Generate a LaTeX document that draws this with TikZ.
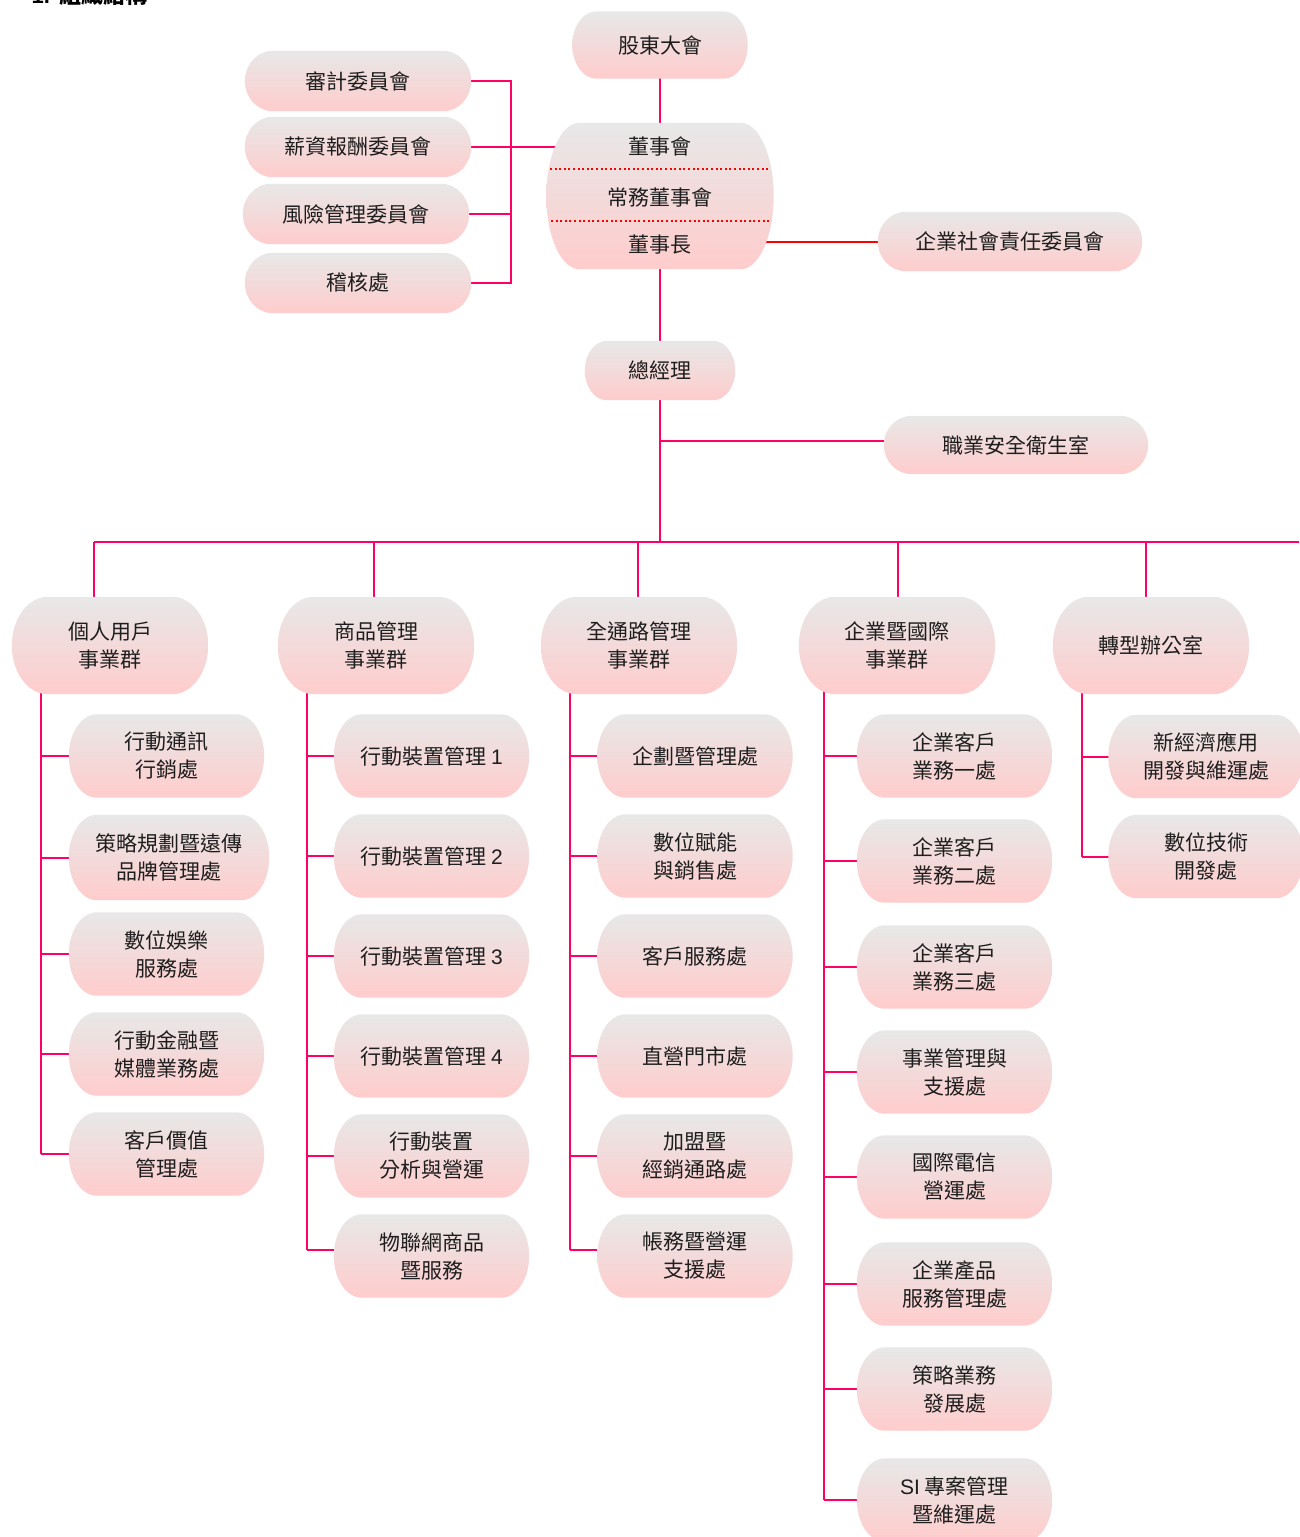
\documentclass[tikz,border=0pt]{standalone}
\usepackage{fontspec}
\setmainfont{Noto Sans CJK TC}
\newfontfamily\lat{Liberation Sans}
\usetikzlibrary{calc}
\definecolor{gtop}{RGB}{232,232,232}
\definecolor{gbot}{RGB}{255,204,204}
\definecolor{lnk}{RGB}{255,0,102}
\definecolor{txt}{RGB}{30,30,30}
\pgfdeclarelayer{bg}\pgfdeclarelayer{mid}\pgfsetlayers{bg,mid,main}
\newcommand\bgs[2]{%
\begin{pgfonlayer}{mid}
\shade[top color=gtop,bottom color=gbot] let \p1=(#1.south west), \p2=(#1.north east), \n1={(\y2-\y1)/2} in
 (\x1+#2pt,\y1) -- (\x2-#2pt,\y1) arc[start angle=-90,end angle=90,x radius=#2pt,y radius=\n1]
 -- (\x1+#2pt,\y2) arc[start angle=90,end angle=270,x radius=#2pt,y radius=\n1] -- cycle;
\end{pgfonlayer}}
\begin{document}
\begin{tikzpicture}[x=1pt,y=-1pt,
 box/.style={inner sep=0pt, align=center, text=txt, font=\fontsize{21}{28}\selectfont},
 topbox/.style={box, minimum width=226pt, minimum height=60pt},
 grp/.style={box, minimum width=196pt, minimum height=97pt},
 sub/.style={box, minimum width=195pt, minimum height=83pt},
 lnkline/.style={draw=lnk, line width=2pt},
 redline/.style={draw=red, line width=2pt}]
\useasboundingbox (0,0) rectangle (1299,1537);
\node[anchor=base west, font=\fontsize{22}{22}\selectfont\bfseries, text=black] (title) at (28,3) {{\lat 1.}\hspace{10pt}組織結構};
% top part
\node[box, minimum width=175pt, minimum height=67pt] (sh) at (660,45) {股東大會};
\node[topbox] (aud) at (358,81) {審計委員會};
\node[topbox] (sal) at (358,147) {薪資報酬委員會};
\node[topbox] (risk) at (356,214) {風險管理委員會};
\node[topbox] (insp) at (358,283) {稽核處};
\node[box, minimum width=227pt, minimum height=146pt] (board) at (660,196) {};
\node[box] (b1) at (660,147) {董事會};
\node[box] (b2) at (660,198) {常務董事會};
\node[box] (b3) at (660,245) {董事長};
\node[box, minimum width=264pt, minimum height=59pt] (csr) at (1010,241.5) {企業社會責任委員會};
\node[box, minimum width=150pt, minimum height=59pt] (gm) at (660,370.5) {總經理};
\node[box, minimum width=264pt, minimum height=58pt] (ohs) at (1016,445) {職業安全衛生室};
% groups
\node[grp] (g1) at (110,645.5) {個人用戶\\事業群};
\node[grp] (g2) at (376,645.5) {商品管理\\事業群};
\node[grp] (g3) at (639,645.5) {全通路管理\\事業群};
\node[grp] (g4) at (897,645.5) {企業暨國際\\事業群};
\node[grp] (g5) at (1151,645.5) {轉型辦公室};
% column 1
\node[sub] (c11) at (166.5,756) {行動通訊\\行銷處};
\node[sub, minimum width=200pt, minimum height=85pt] (c12) at (169,857.5) {策略規劃暨遠傳\\品牌管理處};
\node[sub] (c13) at (166.5,954) {數位娛樂\\服務處};
\node[sub] (c14) at (166.5,1054) {行動金融暨\\媒體業務處};
\node[sub] (c15) at (166.5,1154) {客戶價值\\管理處};
% column 2
\node[sub] (c21) at (431.5,756) {行動裝置管理 {\lat 1}};
\node[sub] (c22) at (431.5,856) {行動裝置管理 {\lat 2}};
\node[sub] (c23) at (431.5,956) {行動裝置管理 {\lat 3}};
\node[sub] (c24) at (431.5,1056) {行動裝置管理 {\lat 4}};
\node[sub] (c25) at (431.5,1156) {行動裝置\\分析與營運};
\node[sub] (c26) at (431.5,1256) {物聯網商品\\暨服務};
% column 3
\node[sub] (c31) at (695,756) {企劃暨管理處};
\node[sub] (c32) at (695,856) {數位賦能\\與銷售處};
\node[sub] (c33) at (695,956) {客戶服務處};
\node[sub] (c34) at (695,1056) {直營門市處};
\node[sub] (c35) at (695,1156) {加盟暨\\經銷通路處};
\node[sub] (c36) at (695,1256) {帳務暨營運\\支援處};
% column 4
\node[sub] (c41) at (954.5,756) {企業客戶\\業務一處};
\node[sub] (c42) at (954.5,861) {企業客戶\\業務二處};
\node[sub] (c43) at (954.5,967) {企業客戶\\業務三處};
\node[sub] (c44) at (954.5,1072) {事業管理與\\支援處};
\node[sub] (c45) at (954.5,1177) {國際電信\\營運處};
\node[sub] (c46) at (954.5,1284) {企業產品\\服務管理處};
\node[sub] (c47) at (954.5,1389) {策略業務\\發展處};
\node[sub] (c48) at (954.5,1500) {{\lat SI} 專案管理\\暨維運處};
% column 5
\node[sub] (c51) at (1206,756.5) {新經濟應用\\開發與維運處};
\node[sub] (c52) at (1206,856.5) {數位技術\\開發處};
% shapes
\foreach \nm/\rr in {sh/24, aud/28, sal/28, risk/28, insp/28, board/33, csr/28, gm/22, ohs/28,
  g1/36, g2/36, g3/36, g4/36, g5/36,
  c11/28, c12/28, c13/28, c14/28, c15/28,
  c21/28, c22/28, c23/28, c24/28, c25/28, c26/28,
  c31/28, c32/28, c33/28, c34/28, c35/28, c36/28,
  c41/28, c42/28, c43/28, c44/28, c45/28, c46/28, c47/28, c48/28,
  c51/28, c52/28} {\bgs{\nm}{\rr}}
% dotted separators in board
\coordinate (d1L) at (550,169); \coordinate (d1R) at (768,169);
\coordinate (d2L) at (551,221); \coordinate (d2R) at (770,221);
\draw[red, line width=2pt, dash pattern=on 2pt off 2.6pt] (d1L) -- (d1R);
\draw[red, line width=2pt, dash pattern=on 2pt off 2.6pt] (d2L) -- (d2R);
% connectors
\begin{pgfonlayer}{bg}
\draw[lnkline] (sh.center) -- (board.center);
\draw[lnkline] (board.center) -- (gm.center);
\coordinate (bj) at (511,0);
\draw[lnkline] (aud.center) -- (aud.center -| bj) -- (insp.center -| bj) -- (insp.center);
\draw[lnkline] (risk.center) -- (risk.center -| bj);
\draw[lnkline] (sal.center) -- (board.center |- sal.center);
\draw[redline] (board.center |- csr.center) -- (csr.center);
\coordinate (bus) at (0,542);
\coordinate (busR) at (1299,542);
\draw[lnkline] (gm.center) -- (gm.center |- bus);
\draw[lnkline] (gm.center |- 0,441) -- (ohs.center |- 0,441);
\draw[lnkline] ([xshift=-16pt]g1.center |- bus) -- (busR);
\draw[lnkline] ([xshift=-16pt]g1.center |- bus) -- ([xshift=-16pt]g1.center);
\draw[lnkline] ([xshift=-2pt]g2.center |- bus) -- ([xshift=-2pt]g2.center);
\draw[lnkline] ([xshift=-1pt]g3.center |- bus) -- ([xshift=-1pt]g3.center);
\draw[lnkline] ([xshift=1pt]g4.center |- bus) -- ([xshift=1pt]g4.center);
\draw[lnkline] ([xshift=-5pt]g5.center |- bus) -- ([xshift=-5pt]g5.center);
\coordinate (v1) at (41,0);
\coordinate (v2) at (307,0);
\coordinate (v3) at (570,0);
\coordinate (v4) at (824,0);
\coordinate (v5) at (1082,0);
\draw[lnkline] (v1 |- g1.center) -- (v1 |- c15.center);
\foreach \c in {c11,c12,c13,c14,c15} \draw[lnkline] (v1 |- \c.center) -- (\c.center);
\draw[lnkline] (v2 |- g2.center) -- ([yshift=6pt]v2 |- c26.center);
\foreach \c in {c21,c22,c23,c24,c25} \draw[lnkline] (v2 |- \c.center) -- (\c.center);
\draw[lnkline] ([yshift=6pt]v2 |- c26.center) -- ([yshift=6pt]c26.center);
\draw[lnkline] (v3 |- g3.center) -- ([yshift=6pt]v3 |- c36.center);
\foreach \c in {c31,c32,c33,c34,c35} \draw[lnkline] (v3 |- \c.center) -- (\c.center);
\draw[lnkline] ([yshift=6pt]v3 |- c36.center) -- ([yshift=6pt]c36.center);
\draw[lnkline] (v4 |- g4.center) -- (v4 |- c48.center);
\foreach \c in {c41,c42,c43,c44,c45,c46,c47,c48} \draw[lnkline] (v4 |- \c.center) -- (\c.center);
\draw[lnkline] (v5 |- g5.center) -- (v5 |- c52.center);
\foreach \c in {c51,c52} \draw[lnkline] (v5 |- \c.center) -- (\c.center);
\end{pgfonlayer}
\end{tikzpicture}
\end{document}
